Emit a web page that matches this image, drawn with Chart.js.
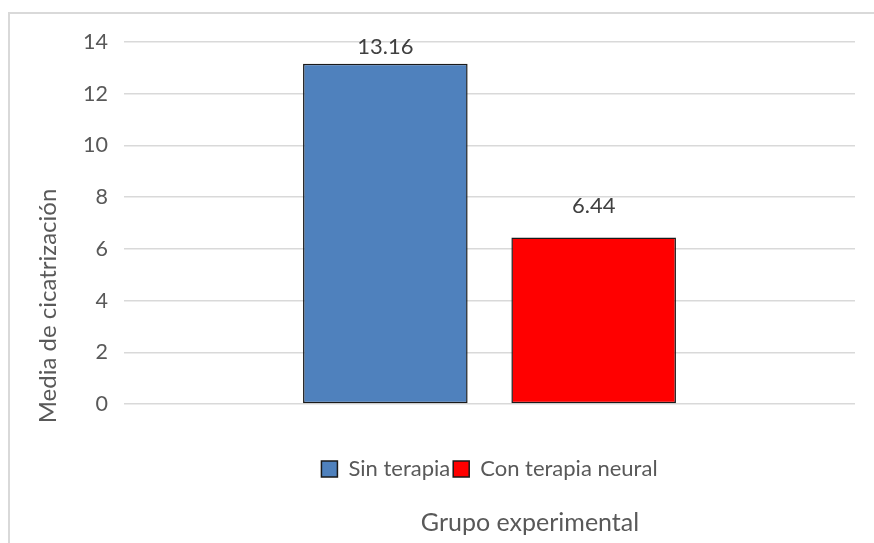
<!DOCTYPE html>
<html>
<head>
<meta charset="utf-8">
<script src="https://cdn.jsdelivr.net/npm/chart.js@4/dist/chart.umd.min.js"></script>
<style>
  html, body { margin: 0; padding: 0; background: #ffffff; }
  #wrap { position: relative; width: 874px; height: 543px; overflow: hidden; }
  #c { position: absolute; left: 0; top: 0; }
  #frame {
    position: absolute; left: 8px; top: 12px; width: 900px; height: 600px;
    border-left: 2px solid #d9d9d9; border-top: 2px solid #d9d9d9;
    pointer-events: none;
  }
</style>
</head>
<body>
<div id="wrap">
  <canvas id="c" width="874" height="543"></canvas>
  <div id="frame"></div>
</div>
<script>
// Chart content
const categories = [''];
const seriesNames = ['Sin terapia', 'Con terapia neural'];
const sinTerapia = [13.16];
const conTerapia = [6.44];
const yMin = 0;
const yMax = 14;
const yStep = 2;
const yTitleText = 'Media de cicatrización';
const xTitleText = 'Grupo experimental';

const FONT = 'Lato, "Liberation Sans", sans-serif';
const TEXT = '#595959';

// Writes each bar's value above it (gap in px per dataset)
const valueLabels = {
  id: 'valueLabels',
  afterDatasetsDraw(chart, args, opts) {
    const ctx = chart.ctx;
    ctx.save();
    ctx.font = '22px ' + FONT;
    ctx.fillStyle = '#404040';
    ctx.textAlign = 'center';
    ctx.textBaseline = 'bottom';
    chart.data.datasets.forEach((ds, i) => {
      const meta = chart.getDatasetMeta(i);
      const gap = (opts.gaps && opts.gaps[i]) || 5;
      meta.data.forEach((bar, j) => {
        ctx.fillText(ds.data[j].toFixed(2), bar.x, bar.y - gap);
      });
    });
    ctx.restore();
  }
};

// Vertical axis title, centred on the whole plot block
const yTitle = {
  id: 'yTitle',
  afterDraw(chart) {
    const ctx = chart.ctx;
    ctx.save();
    ctx.font = '24px ' + FONT;
    ctx.fillStyle = TEXT;
    ctx.textAlign = 'center';
    ctx.textBaseline = 'middle';
    ctx.translate(48, 306);
    ctx.rotate(-Math.PI / 2);
    ctx.fillText(yTitleText, 0, 0);
    ctx.restore();
  }
};

// Centre the legend over the plot area and shift the axis title a little right
const boxAlign = {
  id: 'boxAlign',
  afterLayout(chart) {
    const area = chart.chartArea;
    if (chart.legend) {
      chart.legend.left = area.left;
      chart.legend.right = area.right;
      chart.legend.width = area.right - area.left;
    }
    if (chart.titleBlock) {
      chart.titleBlock.left = 205;
      chart.titleBlock.right = 855;
      chart.titleBlock.width = 650;
    }
  }
};

new Chart(document.getElementById('c'), {
  type: 'bar',
  data: {
    labels: categories,
    datasets: [
      {
        label: seriesNames[0],
        data: sinTerapia,
        backgroundColor: '#4f81bd',
        borderColor: '#1a1a1a',
        borderWidth: 1.5,
        borderSkipped: false
      },
      {
        label: seriesNames[1],
        data: conTerapia,
        backgroundColor: '#ff0000',
        borderColor: '#1a1a1a',
        borderWidth: 1.5,
        borderSkipped: false
      }
    ]
  },
  options: {
    responsive: false,
    animation: false,
    events: [],
    layout: { padding: { top: 42, right: 19, left: 0, bottom: 3 } },
    datasets: { bar: { categoryPercentage: 0.57, barPercentage: 0.79 } },
    scales: {
      x: {
        grid: { display: false },
        border: { display: false },
        ticks: { display: false },
        afterFit(scale) { scale.height = 51; }
      },
      y: {
        min: yMin,
        max: yMax,
        ticks: {
          stepSize: yStep,
          padding: 16,
          color: TEXT,
          font: { family: FONT, size: 21.5 }
        },
        grid: { color: '#d9d9d9', lineWidth: 1.5, drawTicks: false },
        border: { display: false },
        afterFit(scale) { scale.width = 124; }
      }
    },
    plugins: {
      valueLabels: { gaps: [6, 21] },
      legend: {
        position: 'bottom',
        labels: {
          boxWidth: 16,
          boxHeight: 16,
          padding: 3,
          color: TEXT,
          font: { family: FONT, size: 22 }
        }
      },
      title: {
        display: true,
        position: 'bottom',
        text: xTitleText,
        color: TEXT,
        font: { family: FONT, size: 25, weight: 'normal' },
        padding: { top: 18, bottom: 2 }
      },
      tooltip: { enabled: false }
    }
  },
  plugins: [valueLabels, yTitle, boxAlign]
});
</script>
</body>
</html>
